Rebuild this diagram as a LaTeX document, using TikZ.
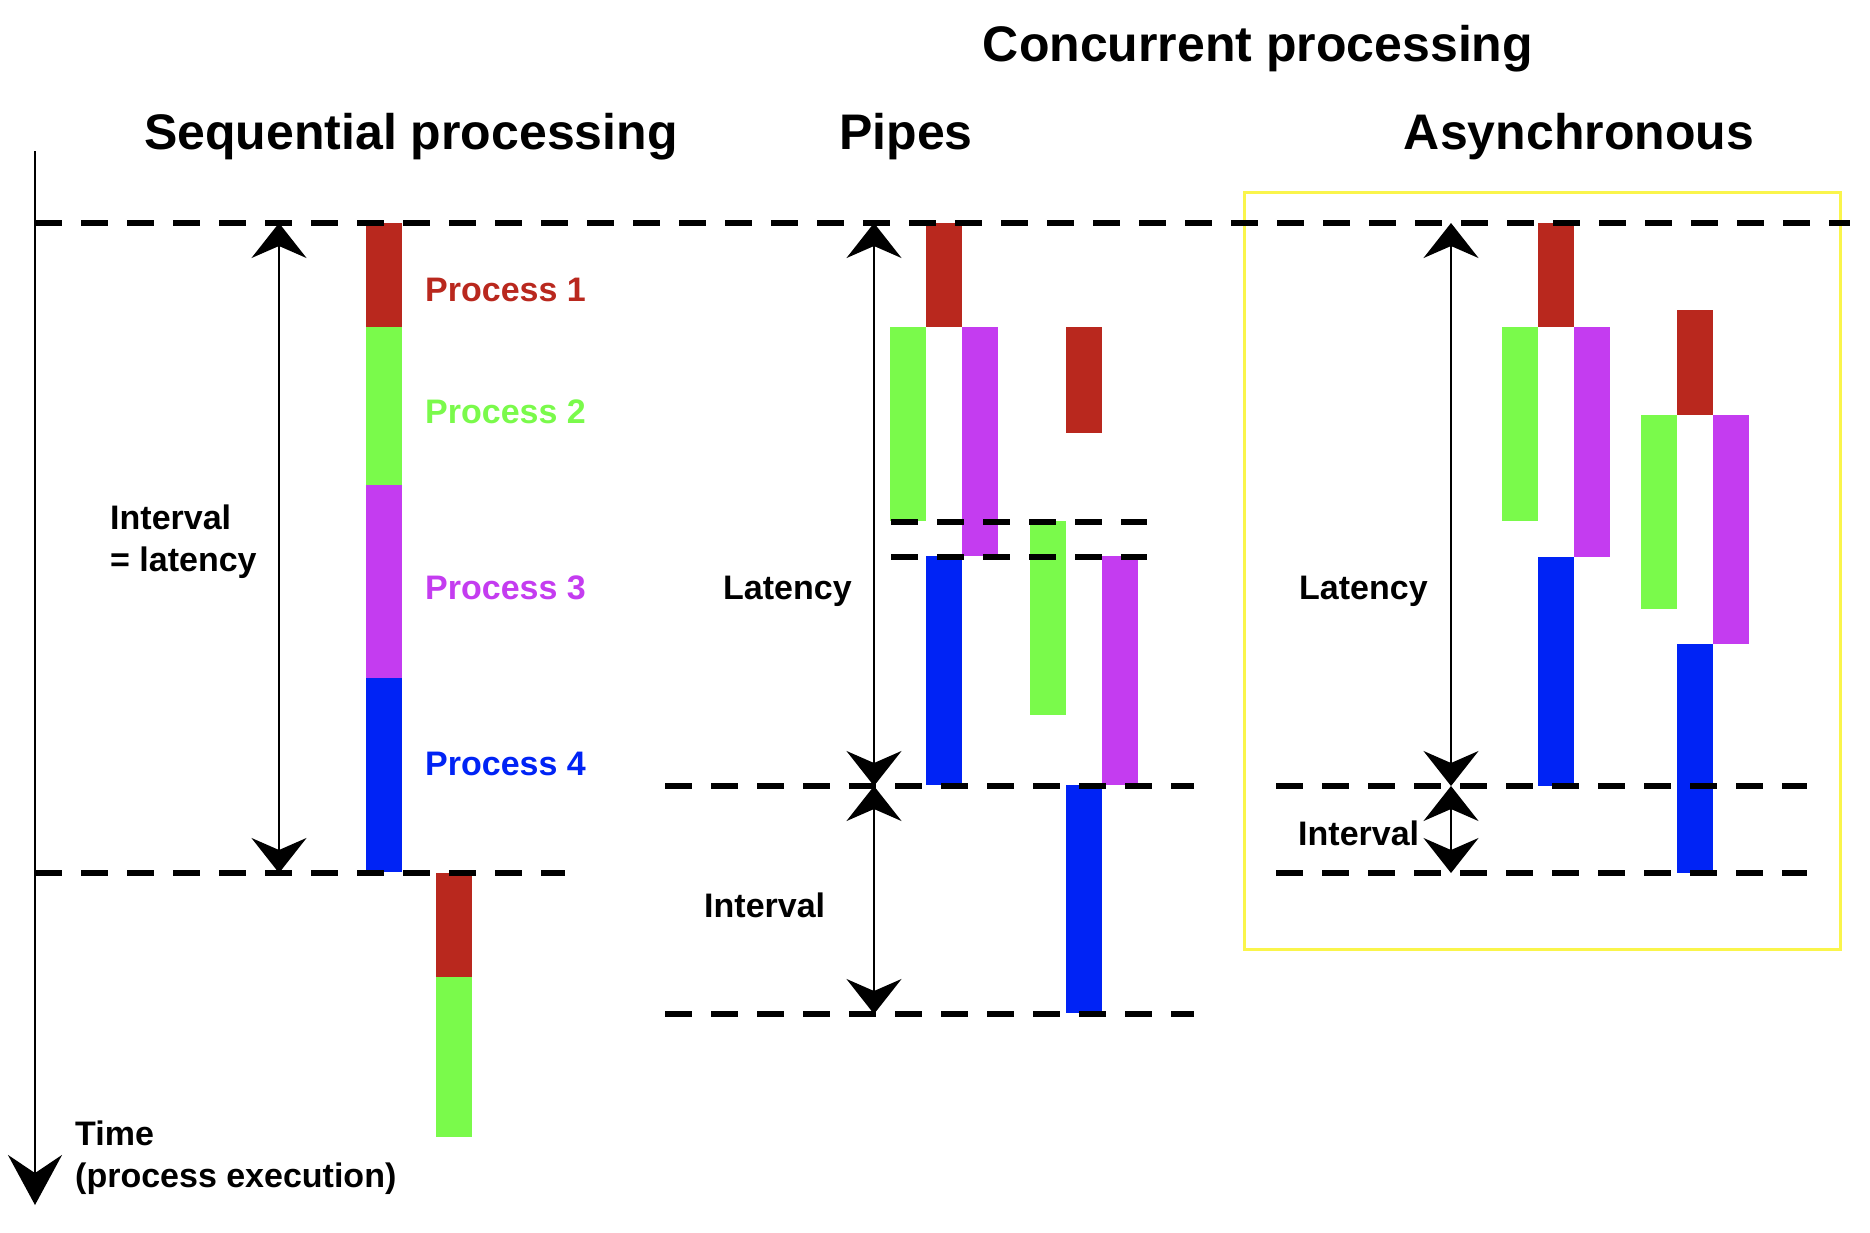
\documentclass[tikz,border=0pt]{standalone}
\usepackage{fontspec}
\setmainfont{Liberation Sans}
\usetikzlibrary{arrows.meta, positioning}
\definecolor{procred}{RGB}{185, 40, 30}
\definecolor{procgreen}{RGB}{122, 250, 75}
\definecolor{procpurple}{RGB}{196, 60, 240}
\definecolor{procblue}{RGB}{0, 35, 245}
\definecolor{boxyellow}{RGB}{250, 245, 75}
\tikzstyle{procbar} = [rectangle, minimum width = 36, inner sep = 0, outer sep = 0]
\tikzstyle{heading} = [font = \fontsize{50}{60}\selectfont\bfseries, inner sep = 0]
\tikzstyle{note} = [font = \fontsize{34}{42}\selectfont\bfseries, inner sep = 0,
  align = left, anchor = base west]
\tikzstyle{syncline} = [line width = 6pt, dash pattern = on 27pt off 19pt]
\tikzstyle{span} = [line width = 2pt,
  {Stealth[length = 35pt, width = 55pt, inset = 12pt]}-{Stealth[length = 35pt, width = 55pt, inset = 12pt]}]

\begin{document}
\begin{tikzpicture}[x = 1pt, y = -1pt, node distance = 0pt]
    \useasboundingbox (0, 0) rectangle (1870, 1232);

    \node [heading, anchor = base] (conc) at (1258, 61) {Concurrent processing};
    \node [heading, anchor = base] (seq) at (411, 149) {Sequential processing};
    \node [heading, anchor = base] (pipes) at (906, 149) {Pipes};
    \node [heading, anchor = base] (async) at (1579, 149) {Asynchronous};

    \draw [boxyellow, line width = 3pt] (1244, 192) rectangle (1840, 949);

    % sequential
    \node [procbar, fill = procred, minimum height = 104, anchor = north west] (seq-1) at (366, 223) {};
    \node [procbar, fill = procgreen, minimum height = 158, below = 0pt of seq-1] (seq-2) {};
    \node [procbar, fill = procpurple, minimum height = 193, below = 0pt of seq-2] (seq-3) {};
    \node [procbar, fill = procblue, minimum height = 194, below = 0pt of seq-3] (seq-4) {};
    \node [procbar, fill = procred, minimum height = 104, anchor = north west] (seq-5) at (436, 873) {};
    \node [procbar, fill = procgreen, minimum height = 160, below = 0pt of seq-5] (seq-6) {};

    \node [note, text = procred] (p1) at (425, 301) {Process 1};
    \node [note, text = procgreen] (p2) at (425, 423) {Process 2};
    \node [note, text = procpurple] (p3) at (425, 599) {Process 3};
    \node [note, text = procblue] (p4) at (425, 775) {Process 4};
    \node [note] (seq-int) at (110, 571) {Interval\\= latency};

    % pipes
    \node [procbar, fill = procred, minimum height = 104, anchor = north west] (pipe-1) at (926, 223) {};
    \node [procbar, fill = procgreen, minimum height = 194, below left = 0pt and 0pt of pipe-1] (pipe-2) {};
    \node [procbar, fill = procpurple, minimum height = 229, below right = 0pt and 0pt of pipe-1] (pipe-3) {};
    \node [procbar, fill = procblue, minimum height = 229, anchor = north west] (pipe-4) at (pipe-1.west |- pipe-3.south) {};
    \node [procbar, fill = procred, minimum height = 106, anchor = north west] (pipe-5) at (1066, 327) {};
    \node [procbar, fill = procgreen, minimum height = 194, anchor = north east] (pipe-6) at (pipe-5.west |- pipe-2.south) {};
    \node [procbar, fill = procpurple, minimum height = 229, anchor = north west] (pipe-7) at (pipe-5.east |- pipe-3.south) {};
    \node [procbar, fill = procblue, minimum height = 228, anchor = north west] (pipe-8) at (pipe-5.west |- pipe-7.south) {};

    \node [note] (pipe-lat) at (723, 599) {Latency};
    \node [note] (pipe-int) at (704, 917) {Interval};

    % asynchronous
    \node [procbar, fill = procred, minimum height = 104, anchor = north west] (async-1) at (1538, 223) {};
    \node [procbar, fill = procgreen, minimum height = 194, below left = 0pt and 0pt of async-1] (async-2) {};
    \node [procbar, fill = procpurple, minimum height = 230, below right = 0pt and 0pt of async-1] (async-3) {};
    \node [procbar, fill = procblue, minimum height = 229, anchor = north west] (async-4) at (async-1.west |- async-3.south) {};
    \node [procbar, fill = procred, minimum height = 105, anchor = north west] (async-5) at (1677, 310) {};
    \node [procbar, fill = procgreen, minimum height = 194, below left = 0pt and 0pt of async-5] (async-6) {};
    \node [procbar, fill = procpurple, minimum height = 229, below right = 0pt and 0pt of async-5] (async-7) {};
    \node [procbar, fill = procblue, minimum height = 229, anchor = north west] (async-8) at (async-5.west |- async-7.south) {};

    \node [note] (async-lat) at (1299, 599) {Latency};
    \node [note] (async-int) at (1298, 845) {Interval};

    % time levels
    \coordinate (sync-0a) at (35, 223);   \coordinate (sync-0b) at (1850, 223);
    \coordinate (sync-1a) at (35, 873);   \coordinate (sync-1b) at (565, 873);
    \coordinate (sync-2a) at (891, 522);  \coordinate (sync-2b) at (1147, 522);
    \coordinate (sync-3a) at (891, 557);  \coordinate (sync-3b) at (1147, 557);
    \coordinate (sync-4a) at (665, 786);  \coordinate (sync-4b) at (1194, 786);
    \coordinate (sync-5a) at (665, 1014); \coordinate (sync-5b) at (1194, 1014);
    \coordinate (sync-6a) at (1276, 786); \coordinate (sync-6b) at (1807, 786);
    \coordinate (sync-7a) at (1276, 873); \coordinate (sync-7b) at (1807, 873);
    \foreach \i in {0, ..., 7}
      \draw [syncline] (sync-\i a) -- (sync-\i b);

    \coordinate (seq-top) at (279, 223);
    \coordinate (seq-end) at (279, 873);
    \coordinate (pipe-top) at (874, 223);
    \coordinate (pipe-mid) at (874, 786);
    \coordinate (pipe-end) at (874, 1014);
    \coordinate (async-top) at (1451, 223);
    \coordinate (async-mid) at (1451, 786);
    \coordinate (async-end) at (1451, 873);

    \draw [span] (seq-top) -- (seq-end);
    \draw [span] (pipe-top) -- (pipe-mid);
    \draw [span] (pipe-mid) -- (pipe-end);
    \draw [span] (async-top) -- (async-mid);
    \draw [span] (async-mid) -- (async-end);

    \coordinate (time-top) at (35, 151);
    \coordinate (time-end) at (35, 1205);
    \draw [line width = 2pt, -{Stealth[length = 50pt, width = 54pt, inset = 18pt]}] (time-top) -- (time-end);
    \node [note] (time) at (75, 1187) {Time\\(process execution)};
  \end{tikzpicture}
\end{document}
